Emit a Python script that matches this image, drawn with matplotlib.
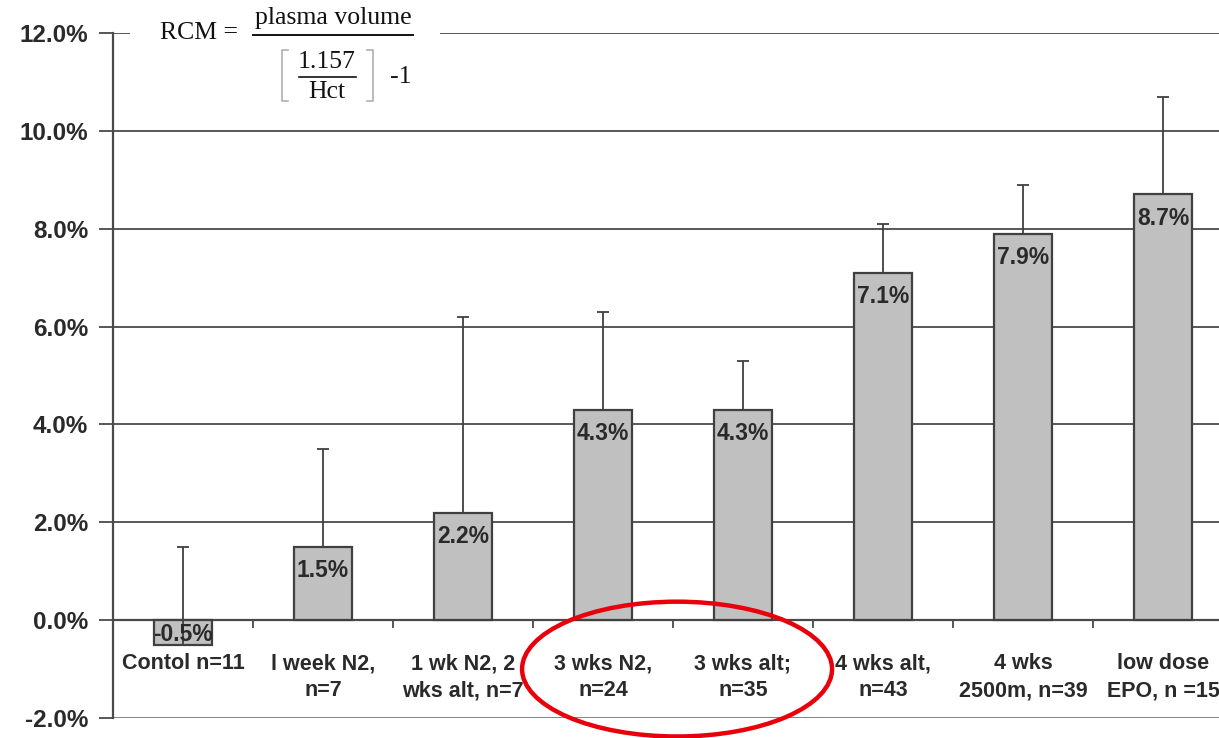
import matplotlib
matplotlib.use("Agg")
import matplotlib.pyplot as plt
from matplotlib.patches import Ellipse, Rectangle
from matplotlib.lines import Line2D

categories = [
    "Contol n=11",
    "l week N2,\nn=7",
    "1 wk N2, 2\nwks alt, n=7",
    "3 wks N2,\nn=24",
    "3 wks alt;\nn=35",
    "4 wks alt,\nn=43",
    "4 wks\n2500m, n=39",
    "low dose\nEPO, n =15",
]
rcm_change = [-0.5, 1.5, 2.2, 4.3, 4.3, 7.1, 7.9, 8.7]
upper_error = [2.0, 2.0, 4.0, 2.0, 1.0, 1.0, 1.0, 2.0]
y_ticks = [-2, 0, 2, 4, 6, 8, 10, 12]

W, H = 1219, 738
fig = plt.figure(figsize=(W / 100, H / 100), dpi=100)
fig.patch.set_facecolor("white")


def fx(px):
    return px / W


def fy(py):
    return 1 - py / H


ax = fig.add_axes([fx(113), fy(718), fx(1233) - fx(113), fy(33) - fy(718)])
ax.set_xlim(-0.5, len(categories) - 0.5)
ax.set_ylim(-2, 12)

sans = "Liberation Sans"
serif = "Liberation Serif"
txt_col = "#2a2a2a"
line_col = "#4a4a4a"

# horizontal gridlines
for v in [2, 4, 6, 8, 10, 12]:
    ax.axhline(v, color=line_col, lw=1.3, zorder=1)
ax.axhline(-2, color="#777777", lw=2.0, zorder=1)

x = list(range(len(categories)))
ax.bar(x, rcm_change, width=0.41, color="#c0c0c0", edgecolor="#404040",
       linewidth=1.6, zorder=2)
ax.errorbar(x, rcm_change, yerr=[[0] * len(x), upper_error], fmt="none",
            ecolor="#404040", elinewidth=1.3, capsize=4.5, capthick=1.3, zorder=3)

for xi, v in zip(x, rcm_change):
    if v >= 0:
        ax.text(xi, v - 0.25, f"{v:.1f}%", ha="center", va="top",
                fontsize=16.5, fontweight="bold", family=sans, color=txt_col, zorder=4)
    else:
        ax.text(xi, -0.05, f"{v:.1f}%", ha="center", va="top",
                fontsize=16.5, fontweight="bold", family=sans, color=txt_col, zorder=4)

# spines: left axis plus category axis through zero
for s in ["top", "right"]:
    ax.spines[s].set_visible(False)
ax.spines["left"].set_color(line_col)
ax.spines["left"].set_linewidth(1.6)
ax.spines["bottom"].set_position(("data", 0))
ax.spines["bottom"].set_color(line_col)
ax.spines["bottom"].set_linewidth(1.6)
ax.spines["bottom"].set_zorder(1.5)

ax.set_yticks(y_ticks)
ax.set_yticklabels([f"{v:.1f}%" for v in y_ticks], fontsize=17.5,
                   fontweight="bold", family=sans, color=txt_col)
ax.tick_params(axis="y", direction="out", length=10, width=1.3,
               color=line_col, pad=8)

ax.set_xticks(x)
ax.set_xticklabels(categories, fontsize=15.5, fontweight="bold",
                   family=sans, color=txt_col, linespacing=1.35)
ax.set_xticks([i + 0.5 for i in x[:-1]], minor=True)
ax.tick_params(axis="x", which="major", length=0, pad=24)
ax.tick_params(axis="x", which="minor", direction="out", length=6,
               width=1.3, color=line_col)

# highlight around the 3-week groups
ax.add_patch(Ellipse((3.529, -1.0), 2.214, 2.755, fill=False,
                     edgecolor="#e8000b", lw=3.2, clip_on=False, zorder=5))

# formula panel
fig.patches.append(Rectangle((fx(130), fy(112)), fx(440) - fx(130), fy(0) - fy(112),
                             transform=fig.transFigure, facecolor="white",
                             edgecolor="none", zorder=1))
fs = dict(family=serif, color="#111111", zorder=3)
fig.text(fx(160), fy(33), "RCM =", ha="left", va="center", fontsize=18.5, **fs)
fig.text(fx(333), fy(18), "plasma volume", ha="center", va="center", fontsize=18.5, **fs)
fig.lines.append(Line2D([fx(253), fx(413)], [fy(35), fy(35)], transform=fig.transFigure,
                        color="#111111", lw=1.4, zorder=3))
fig.text(fx(327), fy(62), "1.157", ha="center", va="center", fontsize=18.5, **fs)
fig.lines.append(Line2D([fx(299), fx(356)], [fy(77), fy(77)], transform=fig.transFigure,
                        color="#111111", lw=1.2, zorder=3))
fig.text(fx(327), fy(92), "Hct", ha="center", va="center", fontsize=18.5, **fs)
fig.text(fx(390), fy(77), "-1", ha="left", va="center", fontsize=18.5, **fs)
# square brackets
for xb, d in [(282, 6), (373, -6)]:
    fig.lines.append(Line2D([fx(xb + d), fx(xb), fx(xb), fx(xb + d)],
                            [fy(50), fy(50), fy(101), fy(101)],
                            transform=fig.transFigure, color="#b0b0b0", lw=1.2, zorder=3))

fig.savefig("out.png", dpi=100, facecolor="white")
